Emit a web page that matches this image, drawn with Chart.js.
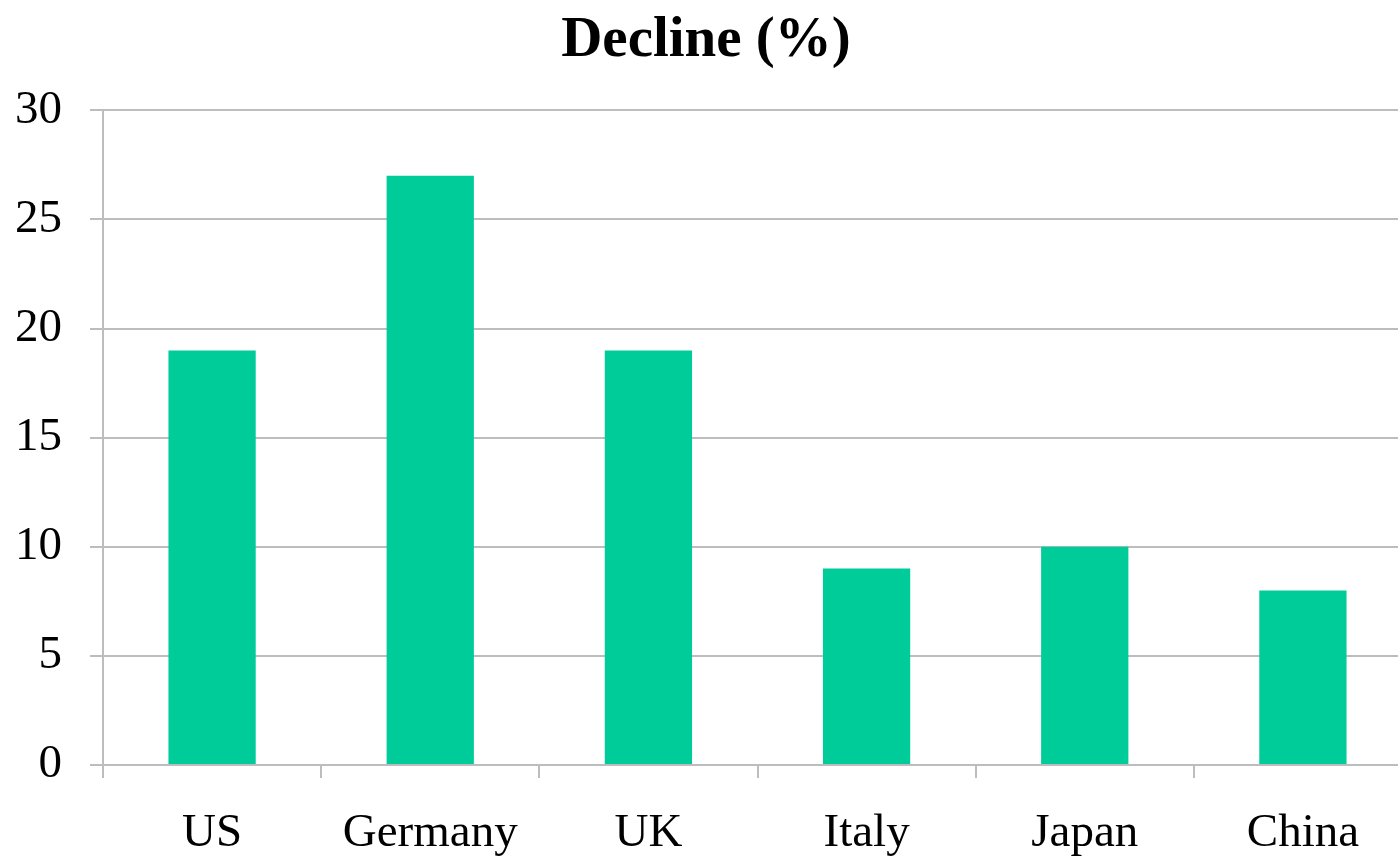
<!DOCTYPE html>
<html>
<head>
<meta charset="utf-8">
<script src="https://cdn.jsdelivr.net/npm/chart.js@4"></script>
<style>
  html, body { margin: 0; padding: 0; background: #fff; overflow: hidden; }
  #wrap { width: 1412px; height: 859px; }
</style>
</head>
<body>
<div id="wrap"><canvas id="myChart"></canvas></div>
<script>
const countries = ['US', 'Germany', 'UK', 'Italy', 'Japan', 'China'];
const decline = [19, 27, 19, 9, 10, 8];
const yTicks = [0, 5, 10, 15, 20, 25, 30];

const ctx = document.getElementById('myChart');
const serif = "'Liberation Serif', 'Times New Roman', serif";

new Chart(ctx, {
    type: 'bar',
    data: {
        labels: countries,
        datasets: [{
            label: 'Decline (%)',
            data: decline,
            backgroundColor: '#00CC99',
            borderWidth: 0,
            categoryPercentage: 1,
            barPercentage: 0.4
        }]
    },
    options: {
        responsive: true,
        maintainAspectRatio: false,
        animation: false,
        layout: { padding: 0 },
        plugins: {
            legend: { display: false },
            tooltip: { enabled: false },
            title: {
                display: true,
                text: 'Decline (%)',
                color: '#000',
                font: { family: serif, size: 57, weight: 'bold' },
                padding: { top: 7, bottom: 35 }
            }
        },
        scales: {
            x: {
                offset: true,
                afterFit: axis => { axis.height = 94; },
                grid: {
                    offset: true,
                    drawOnChartArea: false,
                    drawTicks: true,
                    tickLength: 13,
                    color: '#BDBDBD',
                    lineWidth: 2
                },
                border: { color: '#BDBDBD', width: 2 },
                ticks: {
                    color: '#000',
                    padding: 27,
                    font: { family: serif, size: 47 }
                }
            },
            y: {
                min: 0,
                max: 30,
                afterBuildTicks: axis => { axis.ticks = yTicks.map(v => ({ value: v })); },
                afterFit: axis => { axis.width = 103; },
                grid: {
                    color: '#BDBDBD',
                    lineWidth: 2,
                    tickLength: 13
                },
                border: { color: '#BDBDBD', width: 2 },
                ticks: {
                    color: '#000',
                    padding: 28,
                    font: { family: serif, size: 47 }
                }
            }
        }
    }
});
</script>
</body>
</html>
